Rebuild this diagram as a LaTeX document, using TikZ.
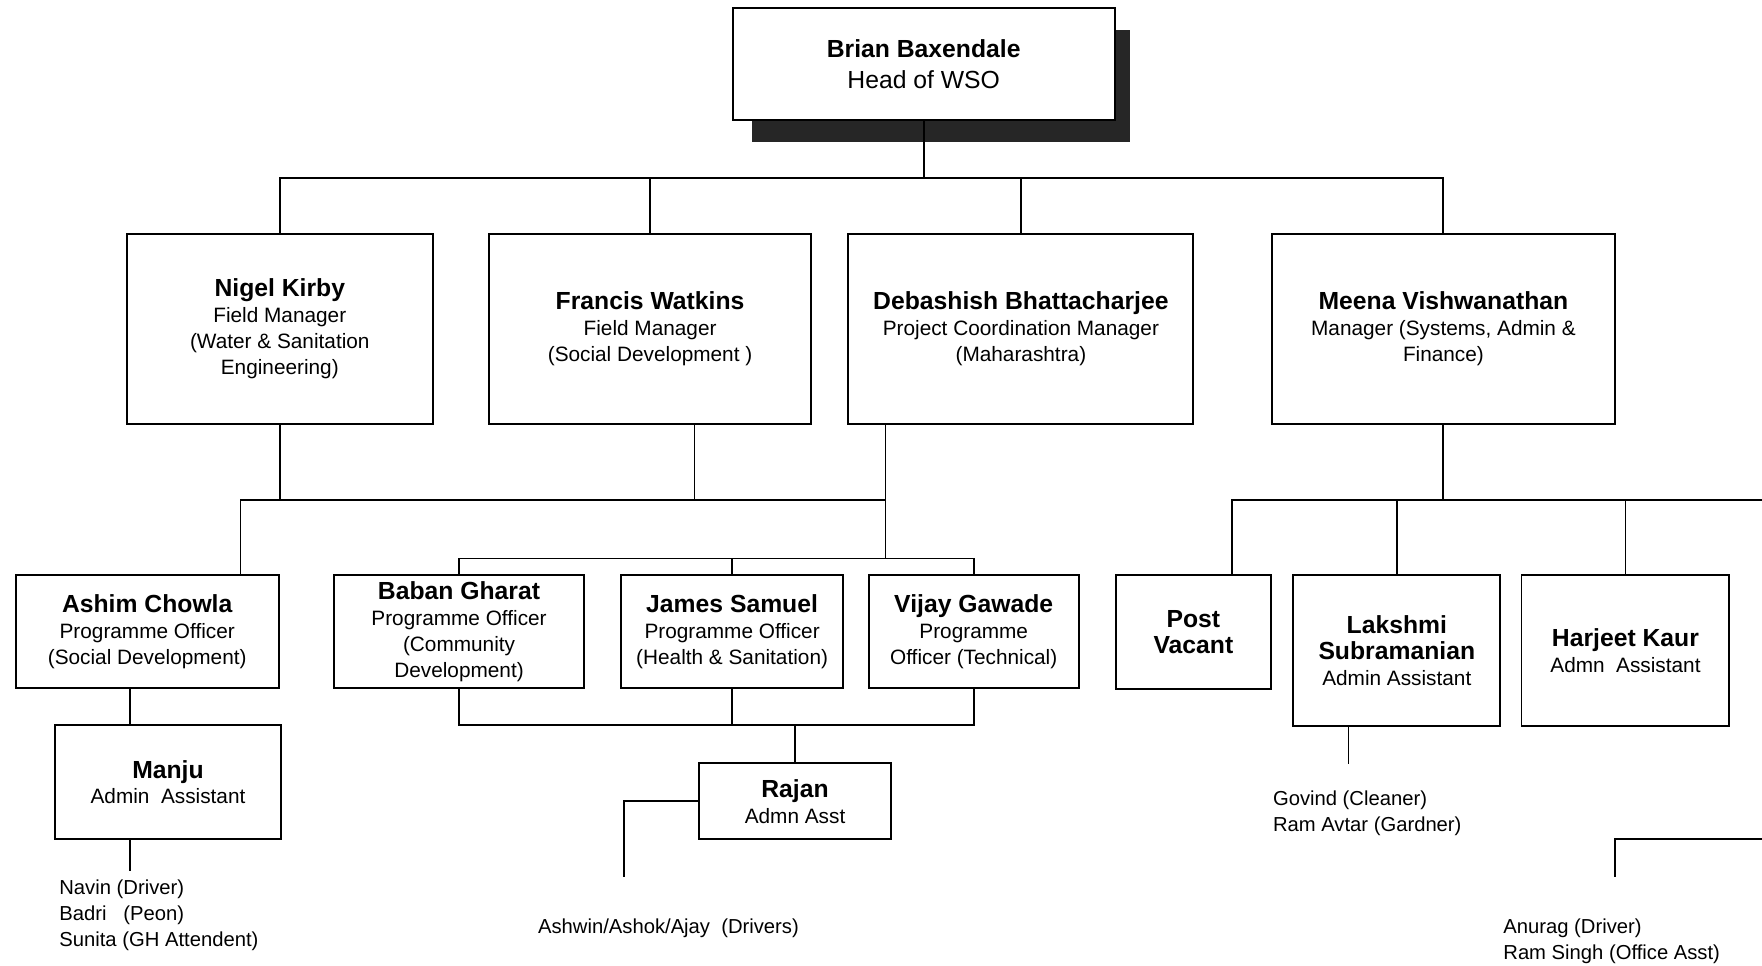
\documentclass[tikz,border=0pt]{standalone}
\usepackage{fontspec}
\setmainfont{Liberation Sans}
\newcommand\nm[1]{{\fontsize{22}{25}\selectfont\bfseries #1}}

\begin{document}
\begin{tikzpicture}[x=1pt, y=-1pt, line width=1.7pt,
  role/.style={draw, fill=white, align=center, inner sep=0pt, font=\fontsize{18.5}{23}\selectfont},
  staff/.style={anchor=north west, align=left, inner sep=0pt, font=\fontsize{18}{23}\selectfont}]
\useasboundingbox (0,0) rectangle (1568,859);

\fill[black!85] (669,27) rectangle (1006,126);
\node[role, minimum width=340, minimum height=100, font=\fontsize{22}{27}\selectfont] (head) at (822,57) {\textbf{Brian Baxendale}\\Head of WSO};

\node[role, minimum width=272, minimum height=169] (nigel) at (249,292.5) {\nm{Nigel Kirby}\\Field Manager\\(Water \& Sanitation\\Engineering)};
\node[role, minimum width=287, minimum height=169] (francis) at (578.5,292.5) {\nm{Francis Watkins}\\Field Manager\\(Social Development )};
\node[role, minimum width=307, minimum height=169] (debashish) at (908.5,292.5) {\nm{Debashish Bhattacharjee}\\Project Coordination Manager\\(Maharashtra)};
\node[role, minimum width=305, minimum height=169] (meena) at (1284.5,292.5) {\nm{Meena Vishwanathan}\\Manager (Systems, Admin \&\\Finance)};

\node[role, minimum width=234, minimum height=100] (ashim) at (131,562) {\nm{Ashim Chowla}\\Programme Officer\\(Social Development)};
\node[role, minimum width=223, minimum height=100] (baban) at (408.5,562) {\nm{Baban Gharat}\\Programme Officer\\(Community\\Development)};
\node[role, minimum width=197, minimum height=100] (james) at (651.5,562) {\nm{James Samuel}\\Programme Officer\\(Health \& Sanitation)};
\node[role, minimum width=187, minimum height=100] (vijay) at (866.5,562) {\nm{Vijay Gawade}\\Programme\\Officer~(Technical)};
\node[role, minimum width=138, minimum height=101] (vacant) at (1062,562.5) {\nm{Post}\\\nm{Vacant}};
\node[role, minimum width=184, minimum height=134] (lakshmi) at (1243,579) {\nm{Lakshmi}\\\nm{Subramanian}\\Admin Assistant};
\node[role, minimum width=185, minimum height=134] (harjeet) at (1446.5,579) {\nm{Harjeet Kaur}\\Admn~~Assistant};

\node[role, minimum width=201, minimum height=102] (manju) at (149.5,696) {\nm{Manju}\\Admin~~Assistant};
\node[role, minimum width=171, minimum height=68] (rajan) at (707.5,713) {\nm{Rajan}\\Admn Asst};

\node[staff] (crewA) at (52,782) {Navin (Driver)\\Badri~~~(Peon)\\Sunita (GH Attendent)};
\node[staff] (crewB) at (478,817) {Ashwin/Ashok/Ajay~~(Drivers)};
\node[staff] (crewC) at (1132,703) {Govind (Cleaner)\\Ram Avtar (Gardner)};
\node[staff] (crewD) at (1337,817) {Anurag (Driver)\\Ram Singh (Office Asst)};

\coordinate (top) at (822,158);
\coordinate (fm) at (618,445);
\coordinate (pc) at (788,497);
\coordinate (ra) at (707.5,645);
\coordinate (mb) at (1284.5,445);
\coordinate (rimA) at (1568,445);
\coordinate (rimB) at (1568,747);
\coordinate (tail) at (1437,780);
\coordinate (m1) at (116,775);
\coordinate (d2) at (555,780);
\coordinate (l1) at (1200,680);

\draw (head) -- (top);
\draw (nigel.north) |- (top) -| (meena.north);
\draw (francis.north) -- (francis.north |- top);
\draw (debashish.north) -- (debashish.north |- top);
\draw (nigel.south) -- (nigel.south |- fm);
\draw (francis.south -| fm) -- (fm);
\draw (debashish.south -| pc) -- (pc);
\draw ([xshift=83]ashim.north) |- (pc |- fm);
\draw (baban.north) |- (pc) -| (vijay.north);
\draw (james.north) -- (james.north |- pc);
\draw (ashim.south -| m1) -- (manju.north -| m1);
\draw (manju.south -| m1) -- (m1);
\draw (baban.south) |- (ra) -| (vijay.south);
\draw (james.south) -- (james.south |- ra);
\draw (rajan) -- (ra);
\draw (rajan.west) -| (d2);
\draw (meena) -- (mb);
\draw ([xshift=34]vacant.north) |- (rimA);
\draw (lakshmi.north) -- (lakshmi.north |- mb);
\draw (harjeet.north) -- (harjeet.north |- mb);
\draw (lakshmi.south -| l1) -- (l1);
\draw (rimB) -| (tail);
\end{tikzpicture}
\end{document}
